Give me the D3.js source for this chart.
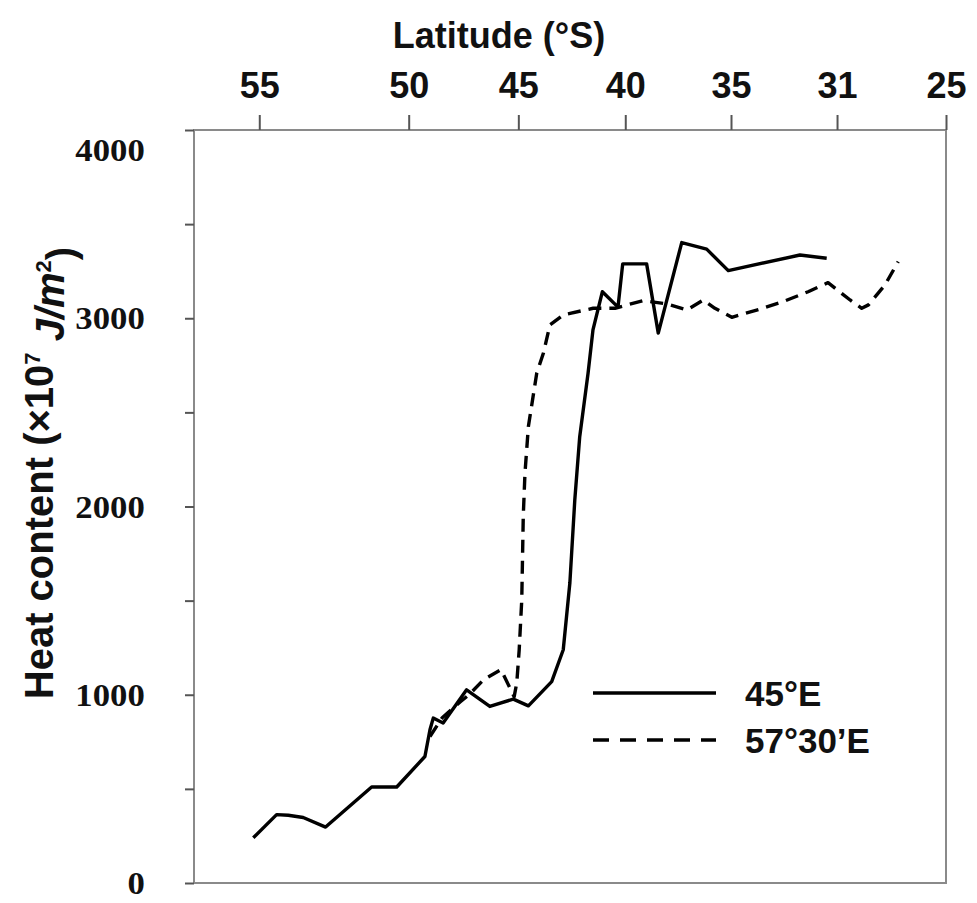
<!DOCTYPE html>
<html>
<head>
<meta charset="utf-8">
<script src="https://cdn.jsdelivr.net/npm/d3@7"></script>
<style>
  body { margin: 0; background: #fff; }
  svg { display: block; }
</style>
</head>
<body>
<svg id="chart" width="977" height="903"></svg>
<script>
// Latitude ticks along the top axis and their labels
const latTicks = [55, 50, 45, 40, 35, 31, 25];
const latTickLabels = ["55", "50", "45", "40", "35", "31", "25"];
// Heat content ticks (labels only on the thousands)
const heatTicks = [0, 500, 1000, 1500, 2000, 2500, 3000, 3500, 4000];
const heatTickLabels = ["0", "", "1000", "", "2000", "", "3000", "", "4000"];

const seriesNames = ["45°E", "57°30’E"];

// Section along 45°E
const lat45E = [55.2, 54.42, 54.03, 53.53, 52.78, 51.24, 50.40, 49.26, 49.03, 48.88, 48.43,
  47.36, 46.30, 45.23, 44.53, 43.44, 42.90, 42.59, 42.36, 42.13, 41.74, 41.51, 41.07,
  40.34, 40.12, 38.99, 38.44, 37.33, 36.15, 35.13, 32.40, 31.39];
const heat45E = [240, 363, 360, 348, 297, 510, 510, 672, 814, 876, 850,
  1026, 938, 977, 941, 1070, 1239, 1595, 2035, 2371, 2708, 2938, 3141,
  3059, 3289, 3289, 2921, 3402, 3367, 3253, 3336, 3319];

// Section along 57°30'E
const lat5730E = [49.03, 48.47, 47.63, 47.25, 46.58, 45.79, 45.19, 45.07, 44.96, 44.84,
  44.77, 44.69, 44.53, 44.14, 43.83, 43.52, 42.90, 41.50, 40.48, 39.15, 38.04, 37.09,
  36.31, 35.76, 34.97, 33.91, 33.04, 32.09, 31.34, 30.28, 29.64, 29.27, 28.36, 27.63];
const heat5730E = [778, 878, 964, 1000, 1080, 1133, 990, 1064, 1239, 1504,
  1947, 2177, 2425, 2708, 2814, 2965, 3018, 3053, 3053, 3094, 3076, 3044,
  3097, 3053, 3005, 3048, 3088, 3141, 3189, 3097, 3053, 3071, 3177, 3301];

// ---- layout ----
const W = 977, H = 903;
const margin = { top: 130, right: 31, bottom: 20, left: 194 };
const iw = W - margin.left - margin.right;
const ih = H - margin.top - margin.bottom;
// the latitude axis is stretched piecewise: where each labelled tick sits across the width
const latTickStops = [0.0868, 0.2855, 0.4313, 0.5735, 0.7141, 0.8551, 1.0];

const svg = d3.select("#chart");
const g = svg.append("g").attr("transform", `translate(${margin.left},${margin.top})`);

const x = d3.scaleLinear().domain(latTicks).range(latTickStops.map(f => f * iw));
const y = d3.scaleLinear().domain([0, 4000]).range([ih, 0]);

const axisGray = "#8a8a8a";

// frame
g.append("rect")
  .attr("x", 0).attr("y", 0).attr("width", iw).attr("height", ih)
  .attr("fill", "none").attr("stroke", axisGray).attr("stroke-width", 2);

// top axis
const xAxis = g.append("g")
  .call(d3.axisTop(x).tickValues(latTicks).tickSize(15).tickPadding(17)
    .tickFormat((d, i) => latTickLabels[i]));
xAxis.select(".domain").remove();
xAxis.selectAll(".tick line").attr("stroke", "#555").attr("stroke-width", 2);
xAxis.selectAll(".tick text")
  .attr("fill", "#111")
  .style("font-family", "'Liberation Sans', Arial, sans-serif")
  .style("font-weight", "bold")
  .style("font-size", "36px");

// left axis
const yAxis = g.append("g")
  .call(d3.axisLeft(y).tickValues(heatTicks).tickSize(9).tickPadding(35)
    .tickFormat((d, i) => heatTickLabels[i]));
yAxis.select(".domain").remove();
yAxis.selectAll(".tick line").attr("stroke", "#555").attr("stroke-width", 2);
yAxis.selectAll(".tick text")
  .attr("fill", "#111")
  .attr("dy", d => d === 4000 ? "1.0em" : "0.34em")
  .attr("transform", "scale(1.12,1)")
  .style("font-family", "'Liberation Serif', 'Times New Roman', serif")
  .style("font-weight", "bold")
  .style("font-size", "31px");

// axis titles
svg.append("text")
  .attr("x", 499).attr("y", 48)
  .attr("text-anchor", "middle")
  .attr("fill", "#111")
  .style("font-family", "'Liberation Sans', Arial, sans-serif")
  .style("font-weight", "bold")
  .style("font-size", "36px")
  .text("Latitude (°S)");

const yTitle = svg.append("text")
  .attr("transform", "translate(53,473) rotate(-90)")
  .attr("text-anchor", "middle")
  .attr("fill", "#111")
  .style("font-family", "'Liberation Sans', Arial, sans-serif")
  .style("font-weight", "bold")
  .style("font-size", "40px");
yTitle.append("tspan").text("Heat content (×10");
yTitle.append("tspan").attr("dy", "-0.6em").style("font-size", "22px").text("7");
yTitle.append("tspan").attr("dy", "0.6em").text(" ");
yTitle.append("tspan").style("font-style", "italic").text("J/m");
yTitle.append("tspan").attr("dy", "-0.6em").style("font-size", "22px").text("2");
yTitle.append("tspan").attr("dy", "0.6em").text(")");

// series lines
const series = [
  { name: seriesNames[0], lat: lat45E, heat: heat45E, dash: null },
  { name: seriesNames[1], lat: lat5730E, heat: heat5730E, dash: "13,8" }
];
const line = d3.line().x(d => x(d[0])).y(d => y(d[1]));

series.forEach(s => {
  g.append("path")
    .datum(s.lat.map((v, i) => [v, s.heat[i]]))
    .attr("fill", "none")
    .attr("stroke", "#000")
    .attr("stroke-width", 3.4)
    .attr("stroke-linejoin", "round")
    .attr("stroke-dasharray", s.dash)
    .attr("d", line);
});

// legend
const legend = svg.append("g").attr("transform", "translate(593,693)");
series.forEach((s, i) => {
  const row = legend.append("g").attr("transform", `translate(0,${i * 47})`);
  row.append("line")
    .attr("x1", 0).attr("x2", 123).attr("y1", 0).attr("y2", 0)
    .attr("stroke", "#000").attr("stroke-width", 3.5)
    .attr("stroke-dasharray", i === 1 ? "16,11" : null);
  row.append("text")
    .attr("x", 152).attr("y", 0).attr("dy", "0.36em")
    .attr("fill", "#111")
    .style("font-family", "'Liberation Sans', Arial, sans-serif")
    .style("font-weight", "bold")
    .style("font-size", "35px")
    .text(s.name);
});
</script>
</body>
</html>
